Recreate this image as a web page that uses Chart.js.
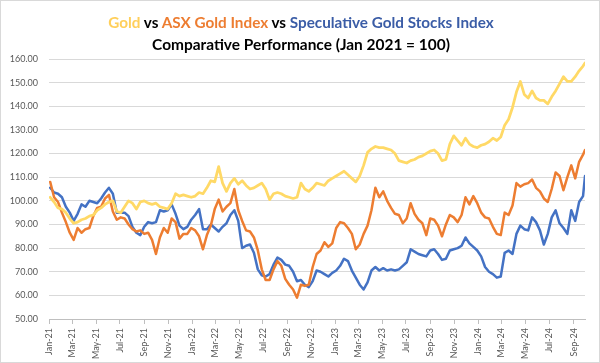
<!DOCTYPE html>
<html><head><meta charset="utf-8">
<script src="https://cdn.jsdelivr.net/npm/chart.js@4.4.1/dist/chart.umd.min.js"></script>
<style>
html,body{margin:0;padding:0;background:#fff;}
#wrap{position:relative;width:600px;height:363px;overflow:hidden;background:#fff;}
#c{position:absolute;left:0;top:0;width:600px;height:363px;}
#frame{position:absolute;left:0;top:0;width:598px;height:361px;border:1px solid #d9d9d9;pointer-events:none;}
.tl{position:absolute;left:0;width:602px;text-align:center;font-family:Lato,sans-serif;font-weight:700;white-space:nowrap;line-height:1;color:#000;}
</style></head>
<body>
<div id="wrap">
<canvas id="c" width="600" height="363"></canvas>
<div class="tl" id="t1"><span style="color:#FFCF5A">Gold</span> vs <span style="color:#ED7D31">ASX Gold Index</span> vs <span style="color:#3A5CA6">Speculative Gold Stocks Index</span></div>
<div class="tl" id="t2">Comparative Performance (Jan 2021 = 100)</div>
<div id="frame"></div>
</div>
<script>
const dates = [
"2021-01-04","2021-01-14","2021-01-24","2021-02-03","2021-02-13","2021-02-23","2021-03-05","2021-03-15","2021-03-25","2021-04-04",
"2021-04-14","2021-04-24","2021-05-04","2021-05-14","2021-05-24","2021-06-03","2021-06-13","2021-06-23","2021-07-03","2021-07-13",
"2021-07-23","2021-08-02","2021-08-12","2021-08-22","2021-09-01","2021-09-11","2021-09-21","2021-10-01","2021-10-11","2021-10-21",
"2021-10-31","2021-11-10","2021-11-20","2021-11-30","2021-12-10","2021-12-20","2021-12-30","2022-01-09","2022-01-19","2022-01-29",
"2022-02-08","2022-02-18","2022-02-28","2022-03-10","2022-03-20","2022-03-30","2022-04-09","2022-04-19","2022-04-29","2022-05-09",
"2022-05-19","2022-05-29","2022-06-08","2022-06-18","2022-06-28","2022-07-08","2022-07-18","2022-07-28","2022-08-07","2022-08-17",
"2022-08-27","2022-09-06","2022-09-16","2022-09-26","2022-10-06","2022-10-16","2022-10-26","2022-11-05","2022-11-15","2022-11-25",
"2022-12-05","2022-12-15","2022-12-25","2023-01-04","2023-01-14","2023-01-24","2023-02-03","2023-02-13","2023-02-23","2023-03-05",
"2023-03-15","2023-03-25","2023-04-04","2023-04-14","2023-04-24","2023-05-04","2023-05-14","2023-05-24","2023-06-03","2023-06-13",
"2023-06-23","2023-07-03","2023-07-13","2023-07-23","2023-08-02","2023-08-12","2023-08-22","2023-09-01","2023-09-11","2023-09-21",
"2023-10-01","2023-10-11","2023-10-21","2023-10-31","2023-11-10","2023-11-20","2023-11-30","2023-12-10","2023-12-20","2023-12-30",
"2024-01-09","2024-01-19","2024-01-29","2024-02-08","2024-02-18","2024-02-28","2024-03-09","2024-03-19","2024-03-29","2024-04-08",
"2024-04-18","2024-04-28","2024-05-08","2024-05-18","2024-05-28","2024-06-07","2024-06-17","2024-06-27","2024-07-07","2024-07-17",
"2024-07-27","2024-08-06","2024-08-16","2024-08-26","2024-09-05","2024-09-15","2024-09-25","2024-09-30"
];
const gold = [
101.5,99.5,97,96.5,95,92.5,90.5,91,92,92.5,
93.5,94,96,97,98.5,99.5,100,95.5,95,97.5,
100,99,96.5,99.5,100,99,98.5,99,97.5,97,
96.5,99,103,102,102.5,102,101.5,102,103.5,103,
105.5,108.5,108,114.5,107.5,104,107.5,109.5,107,108.5,
106.5,105,105.5,106.5,107.5,105,100.5,103,103.5,103,
102,101.5,101,101.5,107.5,105,104,105.5,107.5,107,
106.5,108.5,109.5,110.5,111.5,112.5,111,109.5,108,110.5,
115,120.5,122,123,122.5,122.5,122,121.5,120,117,
116.5,116,117,117.5,118.5,119,120,121,121.5,120,
117,117.5,124,127.5,125.5,123.5,126.5,124,123,122.5,
123.5,124,125,126.5,125.5,127,132,134.5,139.5,146,
150.5,145,143.5,146.5,143.5,142.5,142.5,141,144,146.5,
149.5,152.5,150.5,150.5,152.5,155,157,158.3
];
const asxGold = [
108,101.5,99.5,95,91,86.5,83.5,88.5,86.5,88,
88.5,93.5,97,97.5,101,102.5,95.5,92,93,92.5,
90,88,87,87.5,86,86.5,83.5,77.5,84.5,88.5,
86.5,92.5,91,84,86,86,88.5,87.5,85,79.5,
85.5,89.5,96.5,100.5,95.5,97.5,99,105,96,91.5,
87.5,87,84.5,79,71,66.5,66.5,71,74.5,72.5,
67,64.5,62.5,59,64.5,64,64.5,72,77.5,79,
82.5,80.5,82,88.5,91,90.5,88.5,86,79.5,81.5,
86,89.5,96,105.5,101.5,104,100,97,94.5,94,
90.5,92.5,99,94.5,92,90.5,85.5,92.5,92,89.5,
85,90,94,93,91,94,101.5,98.5,102,99,
95,93,92.5,89,86,85.5,95,94,98,107.5,
106,107,107.5,109,105.5,104,101,99.5,105,112,
110.5,104.5,110,115,109.5,116.5,119.5,121.5
];
const specGold = [
105.5,103.5,103,101.5,97.5,95,91.5,94.5,98.5,97.5,
100,99.5,99,101,103.5,105.5,103,95,95,95,
93.5,89,86.5,85.5,89,91,90.5,91,96,95.5,
96,98.5,94.5,89.5,88,89,92,94,96.5,88,
88,90,88.5,87,89,90.5,94,96,91.5,80,
81,81.5,78,71,68.5,68,69,73,76,75,
73,72.5,70,66,66.5,64.5,63.5,66,70.5,70,
69,68,69.5,70.5,72.5,75.5,74.5,70.5,67.5,64.5,
62.5,65.5,70.5,72,70.5,71.5,70.5,71,70.5,71,
72.5,74,79.5,78.5,77.5,77,76.5,79,79.5,77.5,
75,75.5,79,79.5,80,81,84.5,82,80.5,79,
76.5,72,70,69,67.5,68,78,79,77.5,86,
89.5,88,87.5,93,91,87.5,81.5,86,93,96,
90.5,88.5,86,96,91.5,99.5,102,110.5
];
const tickDates = [
"2021-01-01","2021-03-01","2021-05-01","2021-07-01","2021-09-01","2021-11-01",
"2022-01-01","2022-03-01","2022-05-01","2022-07-01","2022-09-01","2022-11-01",
"2023-01-01","2023-03-01","2023-05-01","2023-07-01","2023-09-01","2023-11-01",
"2024-01-01","2024-03-01","2024-05-01","2024-07-01","2024-09-01"
];
const tickLabels = [
"Jan-21","Mar-21","May-21","Jul-21","Sep-21","Nov-21",
"Jan-22","Mar-22","May-22","Jul-22","Sep-22","Nov-22",
"Jan-23","Mar-23","May-23","Jul-23","Sep-23","Nov-23",
"Jan-24","Mar-24","May-24","Jul-24","Sep-24"
];
const yTicks = [50,60,70,80,90,100,110,120,130,140,150,160];

const DAY = 86400000, T0 = Date.UTC(2021,0,1);
const toDay = s => { const p = s.split('-').map(Number); return (Date.UTC(p[0],p[1]-1,p[2]) - T0) / DAY; };
const xs = dates.map(toDay);
const mk = vals => vals.map((v,i) => ({x: xs[i], y: v}));

function fitTitle(id, targetW, baseline){
  const el = document.getElementById(id);
  const ctx = document.createElement('canvas').getContext('2d');
  ctx.font = '700 100px Lato';
  const m = ctx.measureText(el.textContent);
  const f = 100 * targetW / m.width;
  el.style.fontSize = f + 'px';
  const asc = (m.fontBoundingBoxAscent || 98.7) / 100, desc = (m.fontBoundingBoxDescent || 21.3) / 100;
  const off = (1 - (asc + desc)) / 2 + asc;
  el.style.top = (baseline - off * f) + 'px';
}
fitTitle('t1', 387, 29);
fitTitle('t2', 298, 51);

const tickFont = {family: 'Lato', size: 9};
new Chart(document.getElementById('c'), {
  type: 'line',
  data: { datasets: [
    {label: 'Gold', data: mk(gold), borderColor: '#FFD966', borderWidth: 2.75},
    {label: 'ASX Gold Index', data: mk(asxGold), borderColor: '#ED7D31', borderWidth: 2.5},
    {label: 'Speculative Gold Stocks Index', data: mk(specGold), borderColor: '#4472C4', borderWidth: 2.5}
  ]},
  options: {
    responsive: false, animation: false, devicePixelRatio: 1,
    elements: { point: {radius: 0}, line: {tension: 0, borderJoinStyle: 'round', borderCapStyle: 'round', fill: false} },
    layout: { padding: {left: 0, right: 15, top: 59, bottom: 0} },
    plugins: { legend: {display: false}, tooltip: {enabled: false}, title: {display: false} },
    scales: {
      x: {
        type: 'linear', min: 0, max: xs[xs.length - 1],
        afterBuildTicks: s => { s.ticks = tickDates.map(t => ({value: toDay(t)})); },
        afterFit: s => { s.height = 44; },
        ticks: { autoSkip: false, minRotation: 90, maxRotation: 90, padding: 4, color: '#595959', font: tickFont,
                 callback: (v, i) => tickLabels[i] },
        grid: { drawOnChartArea: false, drawTicks: true, tickLength: 5, color: '#bfbfbf' },
        border: { display: true, color: '#bfbfbf', width: 1 }
      },
      y: {
        min: 50, max: 160,
        afterBuildTicks: s => { s.ticks = yTicks.map(v => ({value: v})); },
        afterFit: s => { s.width = 49; },
        ticks: { padding: 11, color: '#595959', font: tickFont, callback: v => Number(v).toFixed(2) },
        grid: { color: '#d9d9d9', drawTicks: false, lineWidth: 1 },
        border: { display: false }
      }
    }
  }
});
</script>
</body></html>
